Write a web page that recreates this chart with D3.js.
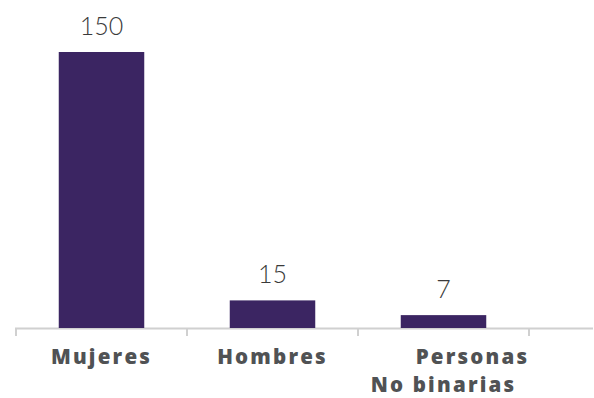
<!DOCTYPE html>
<html><head><meta charset="utf-8">
<script src="https://cdn.jsdelivr.net/npm/d3@7"></script>
<style>body{margin:0;background:#fff}svg{display:block}</style>
</head><body>
<svg id="c" width="594" height="398"></svg>
<script>
const categories = ["Mujeres", "Hombres", "Personas No binarias"];
const labelLines = [["Mujeres"], ["Hombres"], ["Personas", "No binarias"]];
const values = [150, 15, 7];

const svg = d3.select("#c");
const x = d3.scaleBand().domain(categories).range([16, 529]).paddingInner(0.5).paddingOuter(0.25);
const y = d3.scaleLinear().domain([0, 150]).range([328, 52]);

svg.append("line").attr("x1", 15).attr("x2", 593).attr("y1", 328.5).attr("y2", 328.5)
  .attr("stroke", "#d0d0d0").attr("stroke-width", 2);
const tickXs = categories.map(c => x(c) - x.step() * 0.25).concat([x(categories[2]) + x.bandwidth() + x.step()*0.25]);
svg.selectAll(".tk").data(tickXs).enter().append("line")
  .attr("x1", d => d).attr("x2", d => d).attr("y1", 328).attr("y2", 336)
  .attr("stroke", "#d0d0d0").attr("stroke-width", 2);

svg.selectAll(".bar").data(values).enter().append("rect")
  .attr("x", (d, i) => x(categories[i]))
  .attr("width", x.bandwidth())
  .attr("y", d => y(d))
  .attr("height", d => y(0) - y(d))
  .attr("fill", "#3b2562");

svg.selectAll(".val").data(values).enter().append("text")
  .attr("x", (d, i) => x(categories[i]) + x.bandwidth() / 2)
  .attr("y", d => y(d) - 17)
  .attr("text-anchor", "middle")
  .attr("font-family", "Lato, 'Open Sans', sans-serif")
  .attr("font-weight", 300)
  .attr("font-size", 25)
  .attr("fill", "#3a3a3a")
  .text(d => d);

const offsets = [[0], [0], [29, 0]];
labelLines.forEach((lines, i) => {
  const cx = x(categories[i]) + x.bandwidth() / 2;
  lines.forEach((ln, j) => {
    svg.append("text")
      .attr("x", cx + offsets[i][j])
      .attr("y", 363.5 + j * 28)
      .attr("text-anchor", "middle")
      .attr("font-family", "'Open Sans', sans-serif")
      .attr("font-weight", 800)
      .attr("font-size", 20.5)
      .attr("letter-spacing", 2.2)
      .attr("fill", "#505254")
      .text(ln);
  });
});
</script>
</body></html>
